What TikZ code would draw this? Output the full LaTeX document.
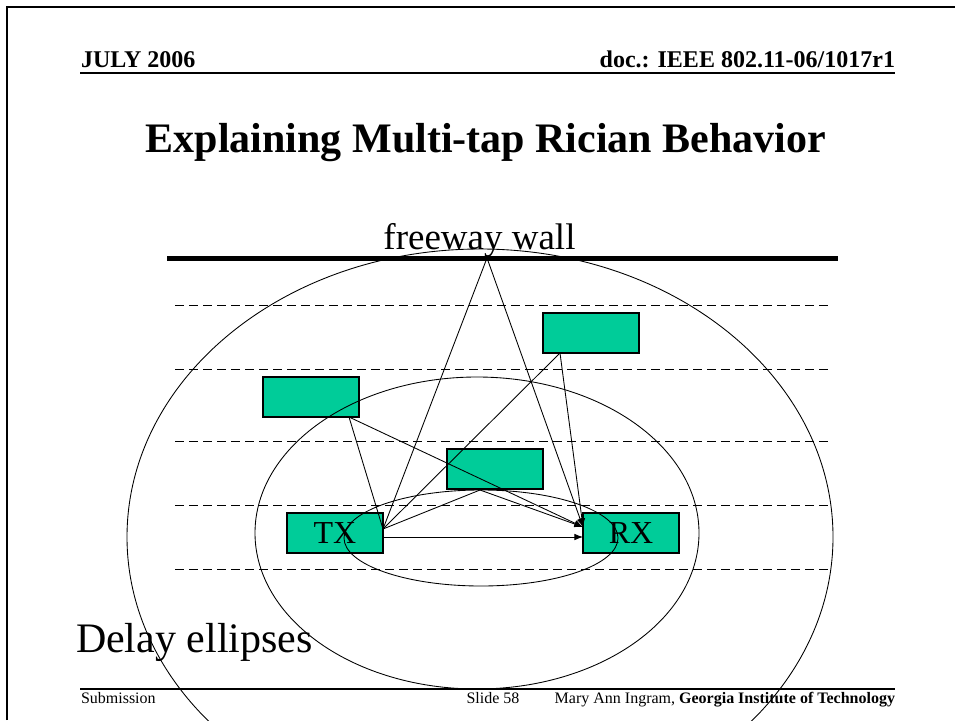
\documentclass[tikz,border=0pt]{standalone}
\usepackage{fontspec}
\setmainfont{Liberation Serif}
\usetikzlibrary{arrows.meta,calc}
\definecolor{boxgreen}{HTML}{00CC99}
\begin{document}
\begin{tikzpicture}[x=0.75pt,y=-0.75pt,
  reflector/.style={draw=black,line width=0.8pt,fill=boxgreen,minimum width=72pt,minimum height=30pt,inner sep=0pt,outer sep=0pt},
  lane/.style={dash pattern=on 6.75pt off 3.75pt,line width=0.75pt},
  ray/.style={line width=0.65pt},
  rayarrow/.style={line width=0.65pt,-{Latex[length=6.5pt,width=5pt]}},
  delay/.style={line width=0.65pt},
  txt/.style={inner sep=0pt,outer sep=0pt},
  hdr/.style={txt,font=\bfseries\fontsize{18pt}{20pt}\selectfont},
  ftr/.style={txt,font=\fontsize{12pt}{14pt}\selectfont}]
\useasboundingbox (0,0) rectangle (955,720);
\clip (0,0) rectangle (955,720);
\fill[white] (0,0) rectangle (955,720);
% slide frame
\draw[line width=1.5pt] (7,720) -- (7,7) -- (955,7);
% header
\node[hdr,anchor=base west] (date) at (81,68) {JULY 2006};
\node[hdr,anchor=base east] (doc) at (895,68) {doc.: IEEE 802.11-06/1017r1};
\draw[line width=1pt] (80,73) -- (895,73);
% title
\node[txt,anchor=base,font=\bfseries\fontsize{31.5pt}{36pt}\selectfont] (title) at (486,153) {Explaining Multi-tap Rician Behavior};
% freeway wall
\node[txt,anchor=base,font=\fontsize{27.75pt}{30pt}\selectfont] (walltext) at (479.5,249) {freeway wall};
\draw[line width=3.75pt] (167,258.5) -- (838,258.5);
\coordinate (w) at (487,258);
% lanes
\foreach \yy in {305,369,441,505,569}
  \draw[lane] (175,\yy) -- (832,\yy);
% boxes
\node[reflector] (b1) at (591,333) {};
\node[reflector] (b2) at (311,397) {};
\node[reflector] (b3) at (495,469) {};
\node[reflector,font=\fontsize{24pt}{26pt}\selectfont] (TX) at (335,533) {TX};
\node[reflector,font=\fontsize{24pt}{26pt}\selectfont] (RX) at (631,533) {RX};
% ray points
\coordinate (ts) at ($(TX.east)+(0,-4)$);
\coordinate (rt) at ($(RX.west)+(0,-6)$);
\coordinate (p1) at ($(b1.south west)+(17,0)$);
\coordinate (p2) at ($(b2.south east)+(-10,0)$);
\coordinate (p3) at ($(b3.south)+(-15,1)$);
% rays
\draw[ray] (ts) -- (w);
\draw[ray] (ts) -- (p1);
\draw[ray] (ts) -- (p2);
\draw[ray] (ts) -- (p3);
\draw[rayarrow] (w) -- (rt);
\draw[rayarrow] (p1) -- (rt);
\draw[rayarrow] (p2) -- (rt);
\draw[rayarrow] (p3) -- (rt);
\draw[rayarrow] ($(TX.east)+(0,4)$) -- ($(RX.west)+(0,4)$);
% delay ellipses
\draw[delay] (480,537) ellipse [x radius=353, y radius=288];
\draw[delay] (477,533) ellipse [x radius=222, y radius=156];
\draw[delay] (481,538) ellipse [x radius=137, y radius=48];
\node[txt,anchor=base west,font=\fontsize{31.5pt}{34pt}\selectfont] (delaytext) at (76,652) {Delay ellipses};
% footer
\draw[line width=1pt] (80,689) -- (895,689);
\node[ftr,anchor=base west] (sub) at (81,703) {Submission};
\node[ftr,anchor=base] (slide) at (493,703) {Slide 58};
\node[ftr,anchor=base east] (auth) at (895,703) {Mary Ann Ingram, \textbf{Georgia Institute of Technology}};
\end{tikzpicture}
\end{document}
